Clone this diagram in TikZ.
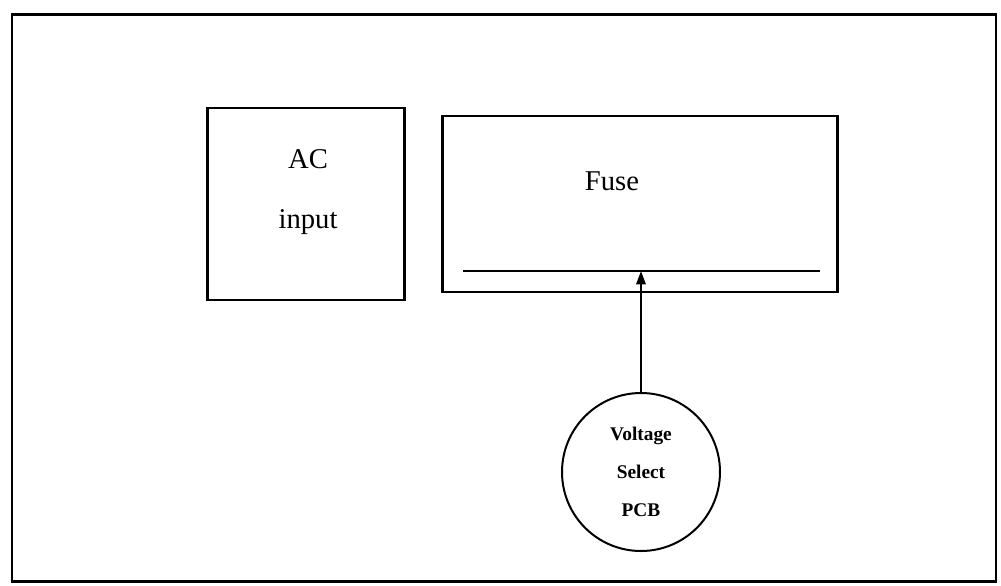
\documentclass[tikz,border=0pt]{standalone}
\usepackage{fontspec}
\setmainfont{Liberation Serif}
\usepackage{tikz}
\usetikzlibrary{arrows.meta, positioning, calc}

\begin{document}
\begin{tikzpicture}[
    x=0.75pt, y=-0.75pt,
    frame/.style={draw, line width=1.8pt},
    blk/.style={rectangle, draw, line width=1.7pt, inner sep=0pt},
    lbl/.style={align=center, font=\fontsize{21.5}{45}\selectfont},
    pcb/.style={circle, draw, line width=1.5pt, minimum size=118.5pt, inner sep=0pt, align=center, font=\fontsize{14.5}{28.5}\selectfont\bfseries},
    arr/.style={-{Triangle[length=10pt, width=7pt]}, line width=1.6pt},
  ]
    \useasboundingbox (0,0) rectangle (1001,586);
    \node[frame, rectangle, minimum width=738pt, minimum height=425pt, inner sep=0pt] (border) at (504,298) {};
    \node[blk, minimum width=147.75pt, minimum height=144pt] (ac) at (306,204) {};
    \node[lbl] (aclbl) at (308,192) {AC\\input};
    \node[blk, minimum width=296.25pt, minimum height=132pt] (fuse) at (640,204) {};
    \node[lbl] (fuselbl) at (612,181) {Fuse};
    \coordinate (barl) at (463,271);
    \coordinate (barr) at (820,271);
    \coordinate (bartap) at (641,271);
    \draw[line width=2pt] (barl) -- (barr);
    \node[pcb] (vsel) at (641,472) {Voltage\\Select\\PCB};
    \draw[arr] (vsel.north) -- (bartap);
  \end{tikzpicture}
\end{document}
